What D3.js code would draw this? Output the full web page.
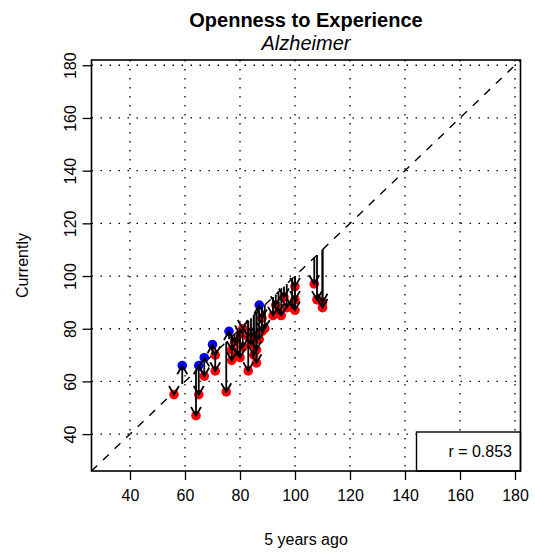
<!DOCTYPE html>
<html>
<head>
<meta charset="utf-8">
<script src="https://cdn.jsdelivr.net/npm/d3@7"></script>
<style>
body { margin: 0; background: #fff; }
text { font-family: "Liberation Sans", Arial, Helvetica, sans-serif; fill: #000; }
</style>
</head>
<body>
<script>
const w = 535
const h = 552

// data: score 5 years ago and score currently, one entry per person
const fiveYearsAgo = [56, 59, 64, 65, 65, 67, 67, 70, 71, 71, 75, 76,
	77, 77, 78, 79, 80, 80, 81, 81, 83, 83, 84, 85, 85, 86, 86, 87, 87, 88, 88, 89,
	92, 93, 94, 95, 96, 97, 99, 100, 100, 100,
	107, 108, 110, 110]
const currently = [55, 66, 47, 55, 66, 69, 62, 74, 70, 64, 56, 79,
	68, 72, 75, 70, 69, 78, 80, 73, 64, 77, 74, 70, 77, 72, 67, 76, 89, 84, 79, 80,
	85, 89, 86, 85, 92, 88, 88, 87, 91, 96,
	97, 91, 88, 90]
const ticks = [40, 60, 80, 100, 120, 140, 160, 180]
const rLabel = "r = 0.853"

const data = fiveYearsAgo.map((d, i) => ({ before: d, now: currently[i] }))

const plotLeft = 91.5, plotRight = 520.5, plotTop = 60, plotBottom = 471

const xScale = d3.scaleLinear().domain([26, 182]).range([plotLeft, plotRight])
const yScale = d3.scaleLinear().domain([26, 182]).range([plotBottom, plotTop])

const svg = d3.select("body").append("svg")
	.attr("width", w)
	.attr("height", h)

svg.append("defs").append("clipPath").attr("id", "plotClip")
	.append("rect")
	.attr("x", plotLeft).attr("y", plotTop)
	.attr("width", plotRight - plotLeft).attr("height", plotBottom - plotTop)

const plot = svg.append("g").attr("clip-path", "url(#plotClip)")

// dotted grid
plot.selectAll(".vgrid")
	.data(ticks)
	.enter()
	.append("line")
	.attr("x1", d => xScale(d)).attr("x2", d => xScale(d))
	.attr("y1", plotTop).attr("y2", plotBottom)
	.attr("stroke", "#000").attr("stroke-width", 1.3)
	.attr("stroke-dasharray", "1.5,7.5")

plot.selectAll(".hgrid")
	.data(ticks)
	.enter()
	.append("line")
	.attr("y1", d => yScale(d)).attr("y2", d => yScale(d))
	.attr("x1", plotLeft).attr("x2", plotRight)
	.attr("stroke", "#000").attr("stroke-width", 1.3)
	.attr("stroke-dasharray", "1.5,7.5")

// identity line
plot.append("line")
	.attr("x1", xScale(26)).attr("y1", yScale(26))
	.attr("x2", xScale(182)).attr("y2", yScale(182))
	.attr("stroke", "#000").attr("stroke-width", 1.4)
	.attr("stroke-dasharray", "8,8")

// points
plot.selectAll("circle")
	.data(data)
	.enter()
	.append("circle")
	.attr("cx", d => xScale(d.before))
	.attr("cy", d => yScale(d.now))
	.attr("r", 4.8)
	.attr("fill", d => d.now > d.before ? "#0000ff" : "#ff0000")

// arrows from the diagonal to the current value
const headLen = 10
const headAng = Math.PI / 6
let arrowPath = function(d) {
	let x = xScale(d.before)
	let y0 = yScale(d.before)
	let y1 = yScale(d.now)
	let dir = y1 > y0 ? 1 : -1
	let dx = headLen * Math.sin(headAng)
	let dy = headLen * Math.cos(headAng) * dir
	let p = d3.path()
	p.moveTo(x, y0)
	p.lineTo(x, y1)
	p.moveTo(x - dx, y1 - dy)
	p.lineTo(x, y1)
	p.lineTo(x + dx, y1 - dy)
	return p.toString()
}

plot.selectAll(".arrow")
	.data(data)
	.enter()
	.append("path")
	.attr("class", "arrow")
	.attr("d", arrowPath)
	.attr("fill", "none")
	.attr("stroke", "#000")
	.attr("stroke-width", 1.8)

// legend box
svg.append("rect")
	.attr("x", 416.5).attr("y", 432)
	.attr("width", plotRight - 416.5).attr("height", plotBottom - 432)
	.attr("fill", "#fff").attr("stroke", "#000").attr("stroke-width", 1.4)

svg.append("text")
	.attr("x", 512).attr("y", 457)
	.attr("text-anchor", "end")
	.attr("font-size", 16)
	.text(rLabel)

// plot box
svg.append("rect")
	.attr("x", plotLeft).attr("y", plotTop)
	.attr("width", plotRight - plotLeft).attr("height", plotBottom - plotTop)
	.attr("fill", "none").attr("stroke", "#000").attr("stroke-width", 1.6)

// axes
let xAxis = d3.axisBottom(xScale).tickValues(ticks).tickSize(9).tickPadding(10)
let yAxis = d3.axisLeft(yScale).tickValues(ticks).tickSize(9).tickPadding(6)

let gx = svg.append("g")
	.attr("transform", "translate(0, " + plotBottom + ")")
	.call(xAxis)
gx.select(".domain").remove()
gx.selectAll("line").attr("stroke-width", 1.3)
gx.selectAll("text")
	.attr("font-size", 16)
	.attr("font-family", "Liberation Sans, Arial, sans-serif")

let gy = svg.append("g")
	.attr("transform", "translate(" + plotLeft + ", 0)")
	.call(yAxis)
gy.select(".domain").remove()
gy.selectAll("line").attr("stroke-width", 1.3)
gy.selectAll("text")
	.attr("font-size", 16)
	.attr("font-family", "Liberation Sans, Arial, sans-serif")
	.attr("text-anchor", "middle")
	.attr("dy", 0)
	.attr("x", 0)
	.attr("transform", "translate(-16, 0) rotate(-90)")

// titles
svg.append("text")
	.attr("x", (plotLeft + plotRight) / 2).attr("y", 27)
	.attr("text-anchor", "middle")
	.attr("font-size", 20)
	.attr("font-weight", "bold")
	.text("Openness to Experience")

svg.append("text")
	.attr("x", (plotLeft + plotRight) / 2).attr("y", 50)
	.attr("text-anchor", "middle")
	.attr("font-size", 20)
	.attr("font-style", "italic")
	.text("Alzheimer")

svg.append("text")
	.attr("x", (plotLeft + plotRight) / 2).attr("y", 545)
	.attr("text-anchor", "middle")
	.attr("font-size", 16)
	.text("5 years ago")

svg.append("text")
	.attr("transform", "translate(28, " + ((plotTop + plotBottom) / 2) + ") rotate(-90)")
	.attr("text-anchor", "middle")
	.attr("font-size", 16)
	.text("Currently")
</script>
</body>
</html>
